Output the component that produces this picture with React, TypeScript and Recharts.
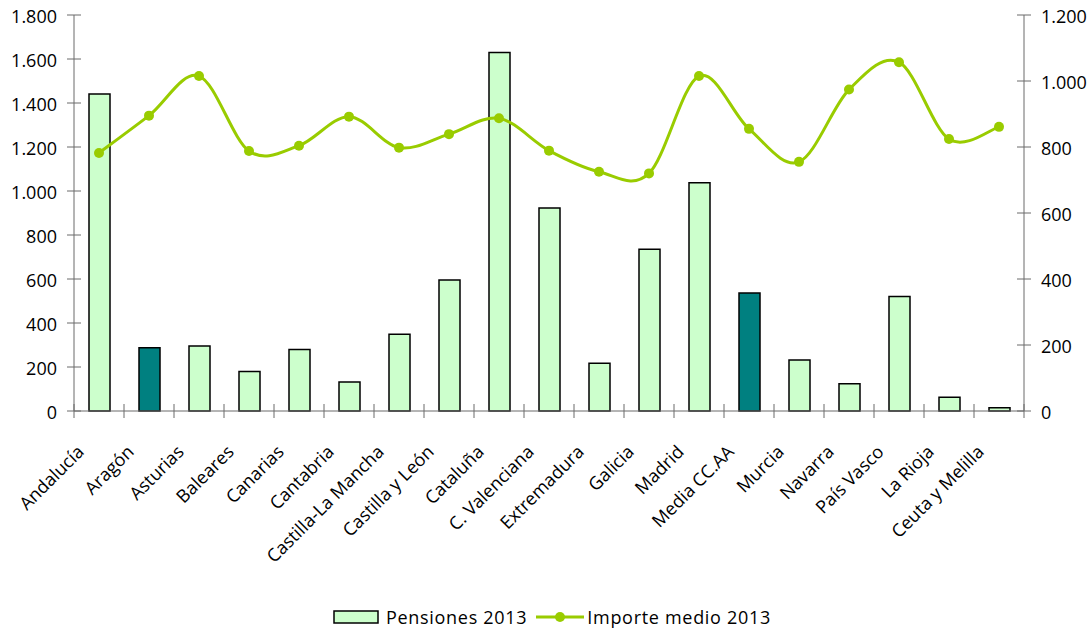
import React from 'react';
import { ComposedChart, Bar, Line, XAxis, YAxis, Cell, Legend } from 'recharts';

// Pensiones e importe medio por comunidad autónoma, 2013
const regions = [
  'Andalucía', 'Aragón', 'Asturias', 'Baleares', 'Canarias', 'Cantabria',
  'Castilla-La Mancha', 'Castilla y León', 'Cataluña', 'C. Valenciana',
  'Extremadura', 'Galicia', 'Madrid', 'Media CC.AA', 'Murcia', 'Navarra',
  'País Vasco', 'La Rioja', 'Ceuta y Melilla',
];
const pensiones2013 = [1441, 288, 295, 179, 280, 132, 349, 595, 1629, 923, 217, 735, 1038, 536, 232, 124, 520, 62, 15];
const importeMedio2013 = [782, 895, 1015, 788, 804, 892, 798, 839, 887, 789, 725, 720, 1015, 855, 755, 974, 1057, 824, 861];
const highlighted = ['Aragón', 'Media CC.AA'];

const leftTicks = [0, 200, 400, 600, 800, 1000, 1200, 1400, 1600, 1800];
const rightTicks = [0, 200, 400, 600, 800, 1000, 1200];

const W = 1092;
const H = 632;
const LEFT_W = 74;
const RIGHT_W = 68;
const BAND = (W - LEFT_W - RIGHT_W) / regions.length;

const BAR_FILL = '#CCFFCC';
const BAR_DARK = '#008080';
const LINE_COLOR = '#99CC00';
const AXIS = '#6b6b6b';
const FONT = '"Open Sans", sans-serif';

const data = regions.map((name, i) => ({
  name,
  pensiones: pensiones2013[i],
  importe: importeMedio2013[i],
}));

// es-ES style thousands separator (1.800)
const fmt = (v: number) => String(v).replace(/\B(?=(\d{3})+(?!\d))/g, '.');

// Excel-like smoothed line (Catmull-Rom through every point)
function excelSmooth(context: any) {
  let pts: number[][] = [];
  return {
    areaStart() {},
    areaEnd() {},
    lineStart() { pts = []; },
    point(x: number, y: number) { pts.push([+x, +y]); },
    lineEnd() {
      const n = pts.length;
      if (!n) return;
      context.moveTo(pts[0][0], pts[0][1]);
      for (let i = 0; i < n - 1; i++) {
        const p0 = pts[Math.max(i - 1, 0)];
        const p1 = pts[i];
        const p2 = pts[i + 1];
        const p3 = pts[Math.min(i + 2, n - 1)];
        context.bezierCurveTo(
          p1[0] + (p2[0] - p0[0]) / 6, p1[1] + (p2[1] - p0[1]) / 6,
          p2[0] - (p3[0] - p1[0]) / 6, p2[1] - (p3[1] - p1[1]) / 6,
          p2[0], p2[1],
        );
      }
    },
  };
}

const LeftTick = ({ x, y, payload }: any) => (
  <g>
    <line x1={x - 7} x2={x + 7} y1={y} y2={y} stroke={AXIS} />
    <text x={x - 17} y={y + 1} textAnchor="end" dominantBaseline="central" fontSize={18} fill="#000">
      {fmt(payload.value)}
    </text>
  </g>
);

const RightTick = ({ x, y, payload }: any) => (
  <g>
    <line x1={x - 7} x2={x + 7} y1={y} y2={y} stroke={AXIS} />
    <text x={x + 17} y={y + 1} textAnchor="start" dominantBaseline="central" fontSize={18} fill="#000">
      {fmt(payload.value)}
    </text>
  </g>
);

const CategoryTick = ({ x, y, payload, index }: any) => {
  const ax = x - 14;
  const ay = y + 42;
  return (
    <g>
      <line x1={x - BAND / 2} x2={x - BAND / 2} y1={y - 7} y2={y + 7} stroke={AXIS} />
      {index === regions.length - 1 && (
        <line x1={x + BAND / 2} x2={x + BAND / 2} y1={y - 7} y2={y + 7} stroke={AXIS} />
      )}
      <text x={ax} y={ay} textAnchor="end" fontSize={18} fill="#000" transform={`rotate(-45, ${ax}, ${ay})`}>
        {payload.value}
      </text>
    </g>
  );
};

const LegendContent = () => (
  <div style={{
    display: 'flex', justifyContent: 'center', alignItems: 'center', height: 30,
    paddingLeft: 12, fontFamily: FONT, fontSize: 18, letterSpacing: 0.7, color: '#000',
  }}>
    <svg width={46} height={14}>
      <rect x={1} y={1} width={44} height={12} fill={BAR_FILL} stroke="#000" strokeWidth={1.5} />
    </svg>
    <span style={{ marginLeft: 7 }}>Pensiones 2013</span>
    <svg width={50} height={14} style={{ marginLeft: 8, marginRight: 2 }}>
      <line x1={1} x2={49} y1={7} y2={7} stroke={LINE_COLOR} strokeWidth={3} />
      <circle cx={25} cy={7} r={5} fill={LINE_COLOR} />
    </svg>
    <span>Importe medio 2013</span>
  </div>
);

export default function App() {
  return (
    <div style={{ position: 'absolute', left: 0, top: 0, width: W, height: H, background: '#fff', fontFamily: FONT }}>
      <ComposedChart width={W} height={H} data={data} margin={{ top: 15, right: 0, bottom: 0, left: 0 }}>
        <XAxis
          dataKey="name"
          interval={0}
          height={191}
          tickSize={0}
          tickMargin={0}
          tickLine={false}
          axisLine={{ stroke: AXIS }}
          tick={<CategoryTick />}
        />
        <YAxis
          yAxisId="left"
          orientation="left"
          width={LEFT_W}
          domain={[0, 1800]}
          ticks={leftTicks}
          interval={0}
          tickSize={0}
          tickMargin={0}
          tickLine={false}
          axisLine={{ stroke: AXIS }}
          tick={<LeftTick />}
        />
        <YAxis
          yAxisId="right"
          orientation="right"
          width={RIGHT_W}
          domain={[0, 1200]}
          ticks={rightTicks}
          interval={0}
          tickSize={0}
          tickMargin={0}
          tickLine={false}
          axisLine={{ stroke: AXIS }}
          tick={<RightTick />}
        />
        <Legend verticalAlign="bottom" height={30} content={<LegendContent />} />
        <Bar
          yAxisId="left"
          dataKey="pensiones"
          name="Pensiones 2013"
          barSize={21}
          stroke="#000"
          strokeWidth={1.5}
          isAnimationActive={false}
        >
          {data.map((d) => (
            <Cell key={d.name} fill={highlighted.includes(d.name) ? BAR_DARK : BAR_FILL} />
          ))}
        </Bar>
        <Line
          yAxisId="right"
          dataKey="importe"
          name="Importe medio 2013"
          type={excelSmooth as any}
          stroke={LINE_COLOR}
          strokeWidth={3}
          dot={{ r: 5, fill: LINE_COLOR, stroke: 'none' }}
          activeDot={false}
          isAnimationActive={false}
        />
      </ComposedChart>
    </div>
  );
}
